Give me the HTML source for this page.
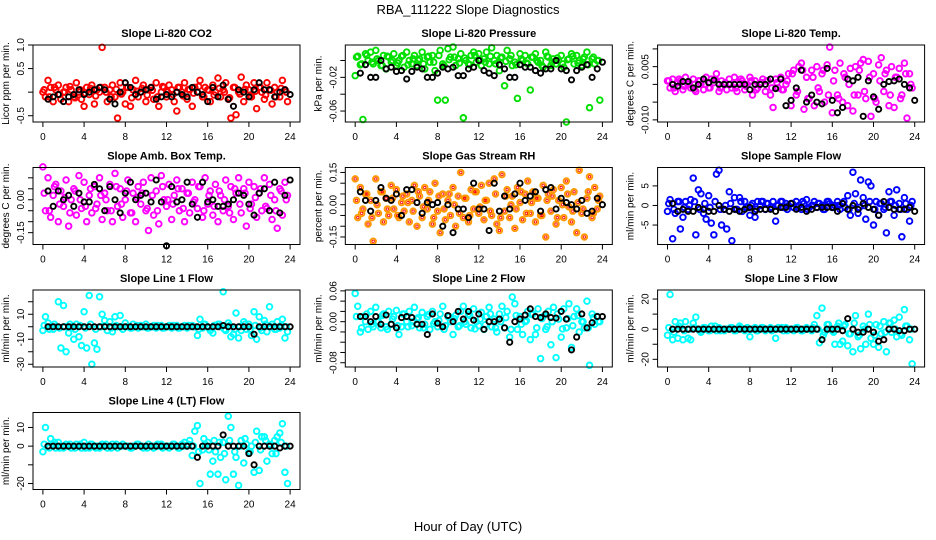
<!DOCTYPE html>
<html><head><meta charset="utf-8"><style>
html,body{margin:0;padding:0;background:#fff;}
svg{display:block;font-family:"Liberation Sans",Arial,sans-serif;}
</style></head><body>
<svg id="chart" width="936" height="540" viewBox="0 0 936 540">
<text x="468" y="14" text-anchor="middle" font-size="13">RBA_111222  Slope Diagnostics</text>
<text x="468" y="531" text-anchor="middle" font-size="13">Hour of Day (UTC)</text>
</svg>
<script>
const xTicks=[0,4,8,12,16,20,24];
const co2Col=[0.0,-0.1,0.25,0.1,-0.2,0.05,0.15,-0.15,0.0,0.1,-0.2,0.05,-0.1,0.2,0.0,-0.15,-0.3,0.1,-0.05,0.15,-0.25,0.05,0.0,0.95,0.1,-0.2,0.05,0.15,-0.1,-0.55,0.2,0.0,-0.25,0.1,-0.3,0.05,0.25,-0.1,0.0,0.15,-0.2,0.05,0.1,-0.15,0.2,-0.3,0.0,0.1,-0.1,0.15,0.05,-0.2,-0.4,0.1,0.0,0.2,-0.15,0.05,-0.3,0.1,0.0,0.25,-0.1,0.1,0.05,-0.2,0.15,0.0,0.3,-0.1,0.05,0.2,-0.15,-0.55,0.1,-0.48,0.0,0.32,-0.2,0.15,0.05,-0.1,0.2,-0.35,0.1,0.0,-0.15,0.2,0.05,-0.25,0.1,0.0,-0.1,0.25,0.05,-0.2];
const co2Core=[0.05,-0.1,0.1,-0.05,0.0,0.12,-0.12,0.05,-0.02,0.08,-0.08,0.1,0.0,-0.1,0.06,-0.04,0.1,-0.12,0.02,0.08,-0.06,0.04,-0.1,0.12,0.0,-0.05,0.1,-0.08,0.06,-0.02,0.12,-0.1,0.04,-0.06,0.08,0.0,-0.12,0.1,-0.04,0.06,-0.08,0.02,0.1,-0.06,0.04,-0.1,0.08,0.0];
const co2Blk=[-0.15,-0.1,-0.05,-0.2,-0.1,-0.05,0.05,-0.05,0.0,0.05,0.1,0.05,-0.15,-0.25,0.0,0.2,0.1,-0.05,0.0,0.05,0.1,-0.15,-0.1,-0.05,-0.1,0.0,-0.05,-0.1,0.1,0.0,-0.05,-0.2,0.1,-0.1,0.15,-0.15,-0.3,0.05,0.0,-0.1,0.05,0.2,0.05,0.05,-0.1,0.0,0.05,-0.05];
const presCol=[-0.018,0.005,-0.005,-0.07,0.008,0.0,0.01,-0.004,0.012,0.0,-0.006,0.006,-0.01,0.004,-0.002,0.008,-0.006,0.0,0.005,-0.008,0.01,0.0,-0.004,0.006,-0.006,0.002,0.01,-0.01,0.004,-0.002,0.006,-0.012,-0.047,0.012,-0.004,-0.047,0.014,0.004,0.016,-0.006,0.002,0.008,-0.068,0.0,-0.004,0.006,0.01,-0.002,0.008,-0.006,0.002,0.01,-0.004,0.015,0.0,0.006,-0.012,0.004,-0.03,0.012,0.002,-0.006,-0.002,-0.045,0.008,0.0,0.006,-0.004,-0.035,0.004,0.008,-0.002,0.0,-0.008,0.01,0.004,-0.006,0.002,-0.004,0.0,0.006,-0.008,-0.073,0.002,0.008,-0.004,0.006,0.0,-0.006,0.004,0.01,-0.056,0.002,-0.004,0.0,-0.047];
const presCore=[0.004,-0.004,0.006,-0.002,0.002,-0.006,0.005,0.0,-0.003,0.006,-0.005,0.002,0.0,-0.004,0.005,-0.002,0.006,-0.006,0.001,0.004,-0.003,0.003,-0.005,0.006,0.0,-0.002,0.005,-0.004,0.003,-0.001,0.006,-0.005,0.002,-0.003,0.004,0.0,-0.006,0.005,-0.002,0.003,-0.004,0.001,0.005,-0.003,0.002,-0.005,0.004,0.0];
const presBlk=[-0.015,-0.005,-0.02,-0.02,0.0,-0.01,-0.008,-0.013,-0.012,-0.022,-0.013,-0.008,-0.01,-0.02,-0.02,-0.015,-0.008,-0.01,-0.008,-0.018,-0.018,-0.01,-0.008,0.0,-0.012,-0.015,-0.018,-0.005,-0.01,-0.02,-0.02,-0.005,-0.008,-0.008,-0.012,-0.015,-0.01,-0.01,0.0,-0.01,-0.012,-0.023,-0.012,-0.008,-0.005,-0.02,-0.01,-0.002];
const tempCol=[0.001,-0.001,0.0015,-0.002,0.0005,0.001,-0.0015,0.002,0.0,-0.001,0.0015,-0.002,0.001,0.0,-0.0015,0.002,-0.001,0.0015,0.0005,0.003,-0.002,0.001,0.0,-0.0015,0.0015,-0.001,0.002,-0.002,0.0005,0.001,-0.0015,0.0,0.002,-0.003,0.001,-0.001,0.0,0.0015,-0.002,0.001,-0.003,-0.0065,0.0015,-0.001,0.002,-0.0015,0.0,0.003,-0.006,0.004,-0.003,0.005,0.006,-0.007,0.002,-0.004,0.004,-0.006,0.005,-0.002,0.003,-0.005,0.0055,0.0105,-0.008,0.004,-0.003,0.006,-0.005,0.002,-0.006,0.0045,-0.0075,0.005,-0.003,0.006,0.007,-0.004,0.0065,-0.009,0.003,-0.005,0.0055,0.0075,-0.002,0.004,-0.006,0.005,-0.0065,0.002,0.0045,-0.003,0.006,-0.0095,0.003,-0.001];
const tempCore=[0.001,-0.001,0.0015,-0.0005,0.0005,-0.0015,0.001,0.0,-0.001,0.0015,-0.001,0.0005,0.0,-0.001,0.0015,-0.0005,0.001,-0.0015,0.0005,0.001,-0.001,0.0005,-0.0015,0.001,0.003,-0.002,0.004,-0.004,0.002,-0.001,0.004,-0.003,0.001,-0.004,0.003,0.0,-0.003,0.004,-0.002,0.002,-0.004,0.001,0.003,-0.003,0.002,-0.004,0.003,0.0];
const tempBlk=[0,-0.0005,0.0008,0.0008,-0.001,0,0.0015,0.0005,0.0012,0,0,0,0,0,0,-0.0015,0,0,0,0.0015,-0.0012,0.0015,-0.006,-0.0045,-0.001,0.004,-0.005,-0.003,-0.005,-0.0055,0.0045,-0.0045,-0.008,-0.0065,0.0015,0.001,0.002,-0.009,0.001,-0.0035,-0.007,0.0,0.0008,0.001,0.0015,0,-0.001,-0.0045];
const ambCol=[0.15,-0.05,0.1,-0.08,0.02,0.07,-0.1,0.04,-0.03,0.09,-0.12,0.0,0.05,-0.07,0.11,-0.04,0.08,-0.1,0.02,-0.06,0.06,-0.02,0.1,-0.09,0.03,-0.05,0.07,-0.1,0.12,-0.03,0.05,-0.08,0.0,0.09,-0.06,0.03,-0.1,0.06,-0.02,0.08,-0.05,-0.14,0.1,-0.07,0.04,-0.11,0.11,0.0,-0.03,0.07,-0.09,0.02,0.09,-0.05,0.05,-0.1,0.03,-0.06,0.08,0.0,-0.04,0.06,-0.08,0.1,-0.02,0.04,-0.07,0.07,-0.1,0.02,-0.05,0.09,-0.03,0.06,-0.09,0.03,0.1,-0.06,0.05,-0.12,0.08,-0.02,0.06,-0.08,0.03,-0.05,0.1,-0.04,0.07,-0.09,0.0,-0.13,0.05,-0.07,0.08,0.02];
const ambCore=[0.03,-0.05,0.06,-0.02,0.01,-0.06,0.04,0.0,-0.03,0.05,-0.04,0.02,0.0,-0.05,0.06,-0.02,0.04,-0.06,0.01,0.03,-0.04,0.02,-0.05,0.06,0.0,-0.02,0.05,-0.04,0.03,-0.01,0.06,-0.05,0.02,-0.03,0.04,0.0,-0.06,0.05,-0.02,0.03,-0.04,0.01,0.05,-0.03,0.02,-0.05,0.04,0.0];
const ambBlk=[0.04,-0.03,0.04,0.0,0.02,-0.03,0.03,-0.01,-0.01,0.07,0.05,-0.05,0.06,0.0,-0.06,0.03,0.08,0.0,0.02,0.03,-0.01,0.09,-0.01,-0.21,0.06,-0.01,0.0,0.08,-0.02,-0.08,0.08,-0.01,0.0,-0.03,-0.03,-0.02,0.0,0.03,0.02,-0.02,-0.07,0.03,0.05,-0.05,0.08,-0.06,0.02,0.09];
const rhCol=[0.12,-0.06,0.08,-0.02,0.05,-0.09,0.02,-0.17,0.12,-0.04,0.06,-0.08,0.03,-0.05,0.09,-0.02,0.07,-0.06,0.01,-0.03,0.05,-0.08,0.02,0.09,-0.1,0.04,-0.06,0.08,-0.02,0.06,-0.09,0.1,-0.03,-0.13,0.05,-0.07,0.02,-0.05,0.08,-0.1,0.04,0.15,-0.06,0.03,-0.08,0.07,-0.02,0.06,-0.04,0.09,-0.07,0.02,0.1,-0.05,0.12,-0.09,-0.12,0.14,-0.03,0.07,-0.06,0.04,-0.11,0.08,0.01,-0.07,0.05,0.11,-0.04,0.06,-0.08,0.03,-0.05,0.09,-0.15,0.05,-0.03,0.07,-0.09,0.02,0.08,-0.06,0.11,-0.01,-0.08,0.06,-0.13,0.16,-0.04,-0.15,0.03,0.13,-0.06,0.08,-0.02,0.04];
const rhCore=[0.02,-0.04,0.05,-0.06,0.0,0.06,-0.02,0.03,-0.05,0.04,0.01,-0.03,0.06,-0.01,0.02,-0.06,0.04,-0.02,0.05,0.0,-0.04,0.03,-0.05,0.06,-0.01,0.02,-0.03,0.05,-0.06,0.04,0.0,-0.02,0.06,-0.04,0.01,0.03,-0.05,0.02,0.04,-0.06,0.0,0.05,-0.03,0.01,-0.02,0.06,-0.04,0.02];
const rhBlk=[0.06,0.02,-0.03,0.02,0.08,0.03,0.02,0.05,-0.05,0.07,0.07,0.01,-0.04,0.01,0.0,0.01,-0.1,0.0,-0.13,-0.02,-0.02,-0.06,0.1,-0.02,-0.02,-0.12,0.1,-0.03,0.04,-0.02,0.05,0.1,0.02,0.04,0.06,-0.03,0.07,0.08,-0.02,0.03,0.01,0.0,-0.02,0.02,-0.04,-0.03,0.03,0.0];
const flowCol=[-1.5,1.5,-8.5,-2,1,-6,-3,1,-1,1.5,7,-7.5,4,3,-2,-3.5,2.5,-4.5,-7.5,8,9,-5,-1,-6,3.5,-9,2,-1,2,-1.5,1,-0.5,-2.5,0.5,-3,1,0,1,-1,0.5,-0.5,1,-4,0,1,-0.5,0.5,0,0.5,-0.5,1,0,-1,0.5,1.5,-0.5,0,1,-0.5,0.5,0,-1,1,0.5,-0.5,0,1,-1,0.5,-0.5,2.5,-2.5,8.5,3,-2,6.5,2,-3.5,6,5,-5,1,-2.5,0.5,-1,-7,3.5,1,-2.5,4,0.5,-8,2,-1,-4,1];
const flowCore=[0.5,-1,1,-0.5,0,1,-1,0.5,-0.5,1,-1,0,0.5,-1,1,-0.5,0,-1,1,0.5,-0.5,0,1,-1,0.5,-0.5,1,-1,0,0.5,-1,1,-0.5,0,1,-1,0.5,-0.5,0,1,-1,0.5,-0.5,1,0,-1,0.5,0];
const flowBlk=[0.5,-1.5,-1,-1.5,-1.5,-0.5,-1,-1.5,-1.5,0,-1,-1.5,-1,-1.5,-1,-0.5,-1.5,-1,-1,-1,-1.5,-0.5,-0.5,0.5,-1,-0.5,-1.5,-1,-0.5,-0.5,-0.5,-0.5,-1.5,0.5,-1,0,-1,0.5,-0.5,-1,-2.5,1,-0.5,-1,-1,-1,-0.5,-1.5];
const l1Col=[-3,8,3,0,-2,0,20,-17,17,-20,-5,0,-10,2,-8,-15,12,-17,25,-30,-13,-18,24,10,5,-3,4,-4,8,0,9,-2,3,0,-1,2,0,-1,1,0,2,-1,0,1,-1,0,1,-1,0,1,-1,0,1,-1,0,1,-1,0,1,0,-7,6,-1,2,0,-3,-5,1,2,0,28,-3,3,-8,-6,11,-9,-3,4,-2,2,-7,12,-10,8,-3,5,-4,16,2,-2,4,-1,6,-9,-4];
const l1Core=[1,-2,2,-1,0,2,-2,1,-1,2,-2,0,1,-1,1,0,0,-1,1,0,-1,0,1,-1,0,1,-1,0,1,0,-2,2,-1,1,2,-2,1,-2,0,2,-2,1,-1,2,0,-2,1,0];
const l1Blk=[0,0,0,0,0,0,0,0,0,0,0,0,0,0,0,0,0,0,0,0,0,0,0,0,0,0,0,0,0,0,0,0,0,0,1,0,0,0,0,0,-6,0,0,0,0,0,0,0];
const l2Col=[0.055,0.03,-0.02,0.01,0.0,-0.015,0.02,-0.01,0.028,0.0,-0.012,0.015,-0.01,0.02,-0.005,0.01,0.022,-0.025,-0.01,0.015,0.0,0.02,-0.008,0.028,0.005,-0.012,0.018,-0.005,0.01,-0.015,0.02,0.0,-0.01,0.015,0.03,-0.008,0.01,0.0,-0.025,0.012,-0.01,0.02,0.03,-0.005,0.015,-0.012,0.025,0.0,-0.008,0.018,-0.015,0.01,0.028,-0.01,0.005,-0.02,0.015,0.03,-0.012,0.02,-0.03,0.048,0.035,-0.015,0.01,-0.025,0.0,0.02,-0.035,0.015,-0.025,0.025,-0.072,0.01,-0.015,0.02,-0.045,0.028,-0.07,0.005,-0.03,0.025,-0.012,0.035,-0.05,0.01,0.025,-0.02,0.0,-0.012,0.04,-0.085,0.015,-0.005,0.01,0.0];
const l2Core=[0.01,-0.012,0.015,-0.005,0.0,0.012,-0.015,0.005,-0.008,0.015,-0.01,0.0,0.008,-0.012,0.014,-0.004,0.002,-0.015,0.01,0.006,-0.008,0.0,0.012,-0.014,0.005,-0.006,0.015,-0.012,0.0,0.008,-0.015,0.012,-0.005,0.002,0.014,-0.012,0.006,-0.01,0.0,0.015,-0.014,0.006,-0.008,0.012,0.0,-0.012,0.008,0.0];
const l2Blk=[0.01,0.01,0.0,0.01,-0.005,0.013,-0.005,-0.012,0.008,0.01,0.008,-0.005,-0.005,-0.025,0.015,-0.003,-0.01,0.012,0.0,0.02,0.005,0.02,0.003,0.015,-0.015,0.0,0.0,0.005,-0.012,-0.04,0.0,0.005,0.013,0.025,0.01,0.008,0.015,0.008,0.007,0.02,0.005,-0.055,-0.03,0.015,-0.012,-0.002,0.01,0.01];
const l3Col=[-4,23,-7,5,-6,4,-7,5,-6,-7,4,8,0,-2,1,0,-1,2,0,-1,1,0,-1,0,0,1,-1,0,2,0,-1,1,-5,0,1,-1,0,1,-1,0,1,0,-6,1,0,-1,1,0,0,-1,1,0,-1,0,1,0,-1,3,9,-9,14,-2,3,0,-1,-10,2,-10,-8,3,-11,-3,-15,9,-5,-13,2,-10,10,-6,-10,3,-12,-3,5,-15,4,-2,6,-5,8,-4,13,2,-7,-23];
const l3Core=[1,-2,2,-1,0,1,-1,1,-1,2,-1,0,1,-1,1,0,0,-1,1,0,-1,0,1,-1,0,1,-1,0,1,0,-4,3,-2,4,2,-3,4,-4,0,3,-4,2,-2,4,0,-3,2,0];
const l3Blk=[0,0,0,0,0,0,0,0,0,0,0,0,0,0,0,0,0,0,0,0,0,0,0,0,0,0,0,0,0,-7,0,0,0,-1,7,0,-2,-2,0,-2,-8,-7,0,0,-1,-1,0,0];
const l4Col=[-3,10,0,4,1,-1,2,0,-1,1,0,-1,0,1,0,-1,2,0,-1,1,0,0,-1,1,0,-1,0,1,0,-1,0,1,0,0,-1,0,0,1,0,-1,0,1,0,-1,0,0,1,0,0,-1,0,1,0,-1,1,2,0,3,-5,8,11,-20,-2,1,2,-15,-8,-3,-15,-6,2,-18,16,10,-15,-6,-21,3,-9,1,-3,0,-14,8,-13,5,5,-8,1,-4,3,5,7,12,-14,-20];
const l4Core=[1,-1,2,-1,0,1,-1,1,-1,1,-1,0,1,-1,1,0,0,-1,1,0,-1,0,1,-1,0,1,-1,0,1,0,-3,4,-2,3,2,-4,3,-3,0,4,-3,2,-2,3,0,-4,2,0];
const l4Blk=[0,0,0,0,0,0,0,0,0,0,0,0,0,0,0,0,0,0,0,0,0,0,0,0,0,0,0,0,0,-6,0,0,0,0,6,0,0,0,0,-4,-10,0,0,0,0,-1,0,0];
const co2Ticks=[-0.5,0,0.5,1.0], co2Labels=["-0.5","","0.5","1.0"];
const presTicks=[-0.06,-0.04,-0.02,0.0], presLabels=["-0.06","","-0.02",""];
const tempTicks=[-0.01,-0.005,0,0.005,0.01], tempLabels=["-0.010","","","0.005",""];
const ambTicks=[-0.15,-0.1,-0.05,0,0.05,0.1], ambLabels=["-0.15","","","0.00","",""];
const rhTicks=[-0.15,-0.1,-0.05,0,0.05,0.1,0.15], rhLabels=["-0.15","","","0.00","","","0.15"];
const flowTicks=[-5,0,5], flowLabels=["-5","0","5"];
const l1Ticks=[-30,-20,-10,0,10,20], l1Labels=["-30","","-10","","10",""];
const l2Ticks=[-0.08,-0.06,-0.04,-0.02,0,0.02,0.04,0.06], l2Labels=["-0.08","","","","0.00","","","0.06"];
const l3Ticks=[-20,-10,0,10,20], l3Labels=["-20","","0","","20"];
const l4Ticks=[-20,-10,0,10], l4Labels=["-20","","0","10"];

const panels=[
 {id:"co2",title:"Slope Li-820 CO2",ylab:"Licor ppm per min.",col:"#ff0000",r:0,c:0,ymin:-0.633,ymax:1.0,cd:co2Col,cc:co2Core,bd:co2Blk,t:co2Ticks,l:co2Labels},
 {id:"pressure",title:"Slope Li-820 Pressure",ylab:"kPa per min.",col:"#00e000",r:0,c:1,ymin:-0.073,ymax:0.0184,cd:presCol,cc:presCore,bd:presBlk,t:presTicks,l:presLabels},
 {id:"temp",title:"Slope Li-820 Temp.",ylab:"degrees C per min.",col:"#ff00ff",r:0,c:2,ymin:-0.0106,ymax:0.0111,cd:tempCol,cc:tempCore,bd:tempBlk,t:tempTicks,l:tempLabels},
 {id:"amb-box-temp",title:"Slope Amb. Box Temp.",ylab:"degrees C per min.",col:"#ff00ff",r:1,c:0,ymin:-0.204,ymax:0.147,cd:ambCol,cc:ambCore,bd:ambBlk,t:ambTicks,l:ambLabels},
 {id:"gas-rh",title:"Slope Gas Stream RH",ylab:"percent per min.",col:"#ff9900",r:1,c:1,ymin:-0.185,ymax:0.173,cd:rhCol,cc:rhCore,bd:rhBlk,t:rhTicks,l:rhLabels,inner:"#ff0000"},
 {id:"sample-flow",title:"Slope Sample Flow",ylab:"ml/min per min.",col:"#0000ff",r:1,c:2,ymin:-9.97,ymax:9.7,cd:flowCol,cc:flowCore,bd:flowBlk,t:flowTicks,l:flowLabels},
 {id:"line1-flow",title:"Slope Line 1 Flow",ylab:"ml/min per min.",col:"#00ffff",r:2,c:0,ymin:-32.2,ymax:29.4,cd:l1Col,cc:l1Core,bd:l1Blk,t:l1Ticks,l:l1Labels},
 {id:"line2-flow",title:"Slope Line 2 Flow",ylab:"ml/min per min.",col:"#00ffff",r:2,c:1,ymin:-0.0883,ymax:0.0617,cd:l2Col,cc:l2Core,bd:l2Blk,t:l2Ticks,l:l2Labels},
 {id:"line3-flow",title:"Slope Line 3 Flow",ylab:"ml/min per min.",col:"#00ffff",r:2,c:2,ymin:-25.1,ymax:26,cd:l3Col,cc:l3Core,bd:l3Blk,t:l3Ticks,l:l3Labels},
 {id:"line4-flow",title:"Slope Line 4 (LT) Flow",ylab:"ml/min per min.",col:"#00ffff",r:3,c:0,ymin:-23.2,ymax:18,cd:l4Col,cc:l4Core,bd:l4Blk,t:l4Ticks,l:l4Labels}
];
const NS="http://www.w3.org/2000/svg";
const svg=document.getElementById("chart");
function mk(tag,attrs,parent){const e=document.createElementNS(NS,tag);for(const k in attrs)e.setAttribute(k,attrs[k]);parent.appendChild(e);return e;}
const XMIN=-0.96,XMAX=24.96,W=267,H=77;
panels.forEach(p=>{
  const L=33+312.3*p.c, T=45+122.5*p.r;
  const g=mk("g",{},svg);
  
  
  const xs=v=>L+(v-XMIN)/(XMAX-XMIN)*W;
  const ys=v=>T+H-(v-p.ymin)/(p.ymax-p.ymin)*H;
  const tt=mk("text",{x:L+W/2,y:T-8,"text-anchor":"middle","font-size":"11","font-weight":"bold"},g);tt.textContent=p.title;
  
  
  const pts=mk("g",{},g);
  
  
  const drawC=(x,v)=>{
    const c=mk("circle",{cx:xs(x),cy:ys(v),r:2.8,fill:"none",stroke:p.col,"stroke-width":1.9},pts);
    
    
    if(p.inner){mk("circle",{cx:xs(x),cy:ys(v),r:1.2,fill:"none",stroke:p.inner,"stroke-width":0.8},pts);}
  };
  p.cd.forEach((v,k)=>drawC(k*0.25,v));
  p.cc.forEach((v,j)=>drawC(j*0.5+0.125,v));
  const bpts=mk("g",{},g);
  
  
  p.bd.forEach((v,j)=>{
    const c=mk("circle",{cx:xs(0.5*j+0.5),cy:ys(v),r:2.6,fill:"none",stroke:"#000","stroke-width":1.9},bpts);
    
    
  });
  const box=mk("rect",{x:L,y:T,width:W,height:H,fill:"none",stroke:"#000","stroke-width":1},g);
  
  
  const xa=mk("g",{},g);
  
  
  xTicks.forEach(v=>{
    mk("line",{x1:xs(v),x2:xs(v),y1:T+H,y2:T+H+5,stroke:"#000"},xa);
    const t=mk("text",{x:xs(v),y:T+H+18,"text-anchor":"middle","font-size":"10"},xa);t.textContent=v;
  });
  const ya=mk("g",{},g);
  
  
  p.t.forEach((v,i)=>{
    mk("line",{x1:L-5,x2:L,y1:ys(v),y2:ys(v),stroke:"#000"},ya);
    if(p.l[i]){const t=mk("text",{x:L-9,y:ys(v),"text-anchor":"middle","font-size":"10",transform:`rotate(-90 ${L-9} ${ys(v)})`},ya);t.textContent=p.l[i];}
  });
  const yl=mk("text",{x:L-24,y:T+H/2,"text-anchor":"middle","font-size":"10",transform:`rotate(-90 ${L-24} ${T+H/2})`},g);
  yl.textContent=p.ylab;
  
  
});
</script>
</body></html>
